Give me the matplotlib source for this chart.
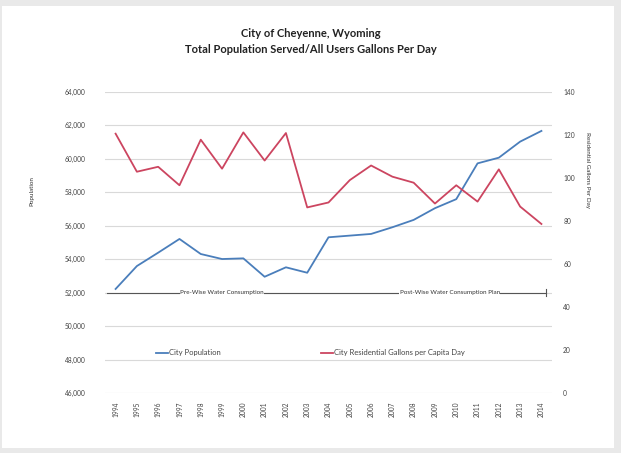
import matplotlib
matplotlib.use('Agg')
import matplotlib.pyplot as plt
from matplotlib.patches import Rectangle

years = list(range(1994, 2015))
population = [52220, 53590, 54390, 55210, 54310, 54010, 54050, 52950, 53515, 53190,
              55310, 55410, 55510, 55910, 56350, 57050, 57590, 59730, 60070, 61030, 61670]
gallons = [120.6, 102.9, 105.2, 96.6, 117.8, 104.3, 121.2, 108.1, 120.9, 86.3,
           88.6, 99.0, 105.8, 100.6, 97.8, 88.1, 96.6, 89.0, 104.0, 86.7, 78.6]
pop_ticks = list(range(46000, 64001, 2000))
gal_ticks = list(range(0, 141, 20))

plt.rcParams['font.family'] = ['Lato', 'DejaVu Sans']

fig = plt.figure(figsize=(6.21, 4.53), dpi=100, facecolor='#e9e9e9')
# white chart sheet on the grey page
fig.patches.append(Rectangle((0.003, 0.012), 0.985, 0.975, transform=fig.transFigure,
                             facecolor='white', edgecolor='none', zorder=-10))

ax = fig.add_axes([0.169, 0.1325, 0.72, 0.6645])
ax.set_facecolor('none')
ax2 = ax.twinx()

blue = '#4a7ebb'
red = '#cc4560'

ax.plot(years, population, color=blue, lw=1.3, label='City Population', zorder=3)
ax2.plot(years, gallons, color=red, lw=1.3, label='City Residential Gallons per Capita Day', zorder=3)

ax.set_xlim(1993.5, 2014.5)
ax.set_ylim(46000, 64000)
ax2.set_ylim(0, 140)
ax.set_yticks(pop_ticks)
ax.set_yticklabels([f'{v:,}' for v in pop_ticks])
ax2.set_yticks(gal_ticks)
ax.set_xticks(years)
ax.set_xticklabels([str(y) for y in years], rotation=90)

ax.grid(axis='y', color='#d9d9d9', lw=0.8)
for a in (ax, ax2):
    for s in a.spines.values():
        s.set_visible(False)
    a.tick_params(length=0, labelsize=4.8, colors='#444444')
ax.tick_params(axis='y', pad=14)
ax2.tick_params(axis='y', pad=8)
ax.tick_params(axis='x', pad=6)

# conservation period bar
ax.plot([1993.6, 2014.2], [52000, 52000], color='#555555', lw=0.8, zorder=2)
ax.plot([2014.2, 2014.2], [51800, 52200], color='#555555', lw=0.8, zorder=2)
ax.text(1999, 52000, 'Pre-Wise Water Consumption', fontsize=4.5, ha='center', va='center',
        color='#333333', bbox=dict(facecolor='white', edgecolor='none', pad=0.3), zorder=4)
ax.text(2009.7, 52000, 'Post-Wise Water Consumption Plan', fontsize=4.5, ha='center', va='center',
        color='#333333', bbox=dict(facecolor='white', edgecolor='none', pad=0.3), zorder=4)

h1, l1 = ax.get_legend_handles_labels()
h2, l2 = ax2.get_legend_handles_labels()
ax.legend(h1 + h2, l1 + l2, loc='center left', bbox_to_anchor=(0.105, 0.133), ncol=2,
          frameon=False, fontsize=5.5, handlelength=1.6, handletextpad=0.2, columnspacing=13,
          borderpad=0, labelcolor='#444444')

ax.set_ylabel('Population', fontsize=4.5, color='#333333')
ax2.set_ylabel('Residential Gallons Per Day', fontsize=4.5, rotation=270, color='#333333')
ax2.yaxis.set_label_coords(1.085, 0.74)
ax.yaxis.set_label_coords(-0.157, 0.67)

fig.text(0.5, 0.908, 'City of Cheyenne, Wyoming\nTotal Population Served/All Users Gallons Per Day',
         ha='center', va='center', fontsize=8, fontweight='bold', color='#222222', linespacing=1.55)

fig.savefig('out.png', dpi=100, facecolor=fig.get_facecolor())
